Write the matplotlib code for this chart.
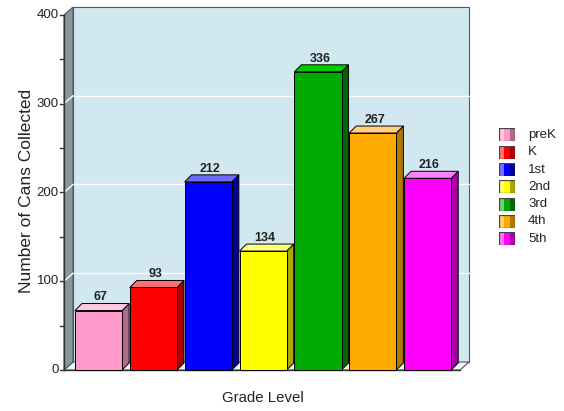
import matplotlib
matplotlib.use("Agg")
import matplotlib.pyplot as plt
from matplotlib.patches import Polygon, Rectangle
import numpy as np

categories = ["preK", "K", "1st", "2nd", "3rd", "4th", "5th"]
values = [67, 93, 212, 134, 336, 267, 216]
front_colors = ["#ff99cc", "#ff0000", "#0000ff", "#ffff00", "#00aa00", "#ffaa00", "#ff00ff"]
top_colors = ["#ffc8e4", "#ff7070", "#6b6bff", "#ffff80", "#00cc00", "#ffd080", "#ff80ff"]
side_colors = ["#b06a8c", "#aa0000", "#000099", "#a8a800", "#006600", "#b07800", "#aa00aa"]
yticks = [0, 100, 200, 300, 400]
minor_ticks = [50, 150, 250, 350]
ylabel = "Number of Cans Collected"
xlabel = "Grade Level"

W, H = 564, 411
fig = plt.figure(figsize=(W / 100, H / 100), dpi=100)
fig.patch.set_facecolor("white")

left, right, bottom, top = 64, 460, 370, 15
ax = fig.add_axes([left / W, (H - bottom) / H, (right - left) / W, (bottom - top) / H])
xl, xr = -0.63, 6.59
ax.set_xlim(xl, xr)
ax.set_ylim(0, 400)
ax.axis("off")

def px2data(dxp, dyp):
    inv = ax.transData.inverted()
    x0, y0 = inv.transform((0, 0))
    x1, y1 = inv.transform((dxp, dyp))
    return x1 - x0, y1 - y0

wdx, wdy = px2data(9, 8)
bdx, bdy = px2data(7, 7)

wall_edge = "#555555"
# back wall
ax.add_patch(Rectangle((xl + wdx, wdy), (xr - xl), 400, facecolor="#d2e8f0",
                       edgecolor=wall_edge, lw=0.8, clip_on=False, zorder=1))
# floor
ax.add_patch(Polygon([(xl, 0), (xr, 0), (xr + wdx, wdy), (xl + wdx, wdy)],
                     closed=True, facecolor="#eef6f9", edgecolor=wall_edge, lw=0.8,
                     clip_on=False, zorder=1.5))
# left wall
ax.add_patch(Polygon([(xl, 0), (xl, 400), (xl + wdx, 400 + wdy), (xl + wdx, wdy)],
                     closed=True, facecolor="#84999a", edgecolor=wall_edge, lw=0.8,
                     clip_on=False, zorder=1.5))
# grid lines
for g in yticks[1:-1]:
    ax.plot([xl + wdx, xr + wdx], [g + wdy, g + wdy], color="white", lw=1.0,
            clip_on=False, zorder=1.2)
    ax.plot([xl, xl + wdx], [g, g + wdy], color="white", lw=1.0, clip_on=False, zorder=1.6)

# front axes lines
ax.plot([xl, xl], [0, 400], color="#333333", lw=1.0, clip_on=False, zorder=2)
ax.plot([xl, xr], [0, 0], color="#333333", lw=1.0, clip_on=False, zorder=2)
tdx, _ = px2data(4, 0)
for t in yticks:
    ax.plot([xl - tdx, xl], [t, t], color="#333333", lw=1.0, clip_on=False, zorder=2)
    ax.text(xl - 1.3 * tdx, t, str(t), ha="right", va="center", fontsize=9.5,
            family="Liberation Sans", color="#222222")
for t in minor_ticks:
    ax.plot([xl - tdx, xl], [t, t], color="#333333", lw=1.0, clip_on=False, zorder=2)

# bars
bw = 0.86
for i, (v, fc, tc, sc) in enumerate(zip(values, front_colors, top_colors, side_colors)):
    x0 = i - bw / 2
    x1 = i + bw / 2
    z = 3 + i * 0.01
    ax.add_patch(Polygon([(x1, 0), (x1 + bdx, bdy), (x1 + bdx, v + bdy), (x1, v)],
                         closed=True, facecolor=sc, edgecolor="black", lw=0.7,
                         clip_on=False, zorder=z))
    ax.add_patch(Polygon([(x0, v), (x1, v), (x1 + bdx, v + bdy), (x0 + bdx, v + bdy)],
                         closed=True, facecolor=tc, edgecolor="black", lw=0.7,
                         clip_on=False, zorder=z))
    ax.add_patch(Rectangle((x0, 0), bw, v, facecolor=fc, edgecolor="black", lw=0.7,
                           clip_on=False, zorder=z + 0.005))
    ax.text(i + bdx / 2 - 0.03, v + bdy + 0.3, str(v), ha="center", va="bottom",
            fontsize=9, fontweight="bold",
            family="Liberation Sans", color="#222222", zorder=5)

fig.text(27 / W, 1 - 191 / H, ylabel, rotation=90, ha="center", va="center",
         fontsize=12.5, family="Liberation Sans", color="#222222")
fig.text(263 / W, 1 - 398 / H, xlabel, ha="center", va="center",
         fontsize=10.8, family="Liberation Sans", color="#222222")

# legend
lx0, lx1 = 499, 515
for j, (name, fc, sc) in enumerate(zip(categories, front_colors, side_colors)):
    cy = 135 + j * 17.3
    bh = 13
    lax = fig.add_axes([lx0 / W, (H - cy - bh / 2) / H, (lx1 - lx0) / W, bh / H])
    lax.set_xlim(0, 1)
    lax.set_ylim(0, 1)
    lax.axis("off")
    lax.add_patch(Rectangle((0, 0), 0.3, 1, facecolor=fc, alpha=0.55, edgecolor="none"))
    lax.add_patch(Rectangle((0.3, 0), 0.4, 1, facecolor=fc, edgecolor="none"))
    lax.add_patch(Rectangle((0.7, 0), 0.3, 1, facecolor=sc, edgecolor="none"))
    lax.add_patch(Rectangle((0, 0), 1, 1, facecolor="none", edgecolor="#444444", lw=0.9))
    fig.text(528 / W, 1 - cy / H, name, ha="left", va="center", fontsize=9.5,
             family="Liberation Sans", color="#222222")

fig.savefig("out.png", dpi=100)
